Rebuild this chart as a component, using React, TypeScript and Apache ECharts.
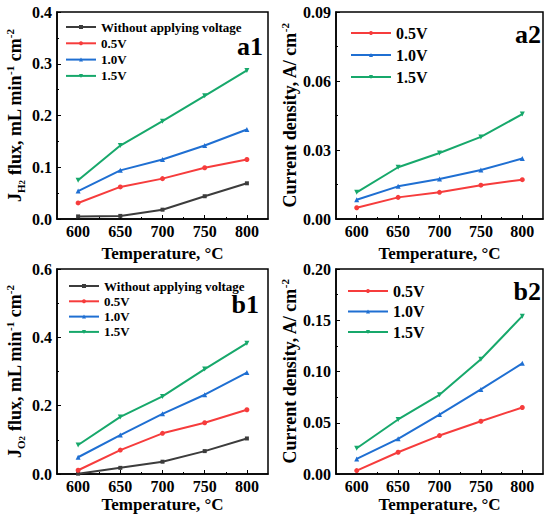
import React, { useEffect, useRef } from "react";
import * as echarts from "echarts";

const temps = [600, 650, 700, 750, 800];
const majorX = [600, 650, 700, 750, 800];
const minorX = [625, 675, 725, 775];

// Panel a1: H2 flux
const a1NoV = [0.005, 0.006, 0.018, 0.044, 0.069];
const a1V05 = [0.031, 0.062, 0.078, 0.099, 0.115];
const a1V10 = [0.054, 0.094, 0.115, 0.142, 0.173];
const a1V15 = [0.075, 0.142, 0.189, 0.238, 0.287];
// Panel a2: current density
const a2V05 = [0.0049, 0.0094, 0.0116, 0.0147, 0.0171];
const a2V10 = [0.0084, 0.0142, 0.0174, 0.0213, 0.0263];
const a2V15 = [0.0116, 0.0225, 0.0287, 0.0357, 0.0456];
// Panel b1: O2 flux
const b1NoV = [0.001, 0.018, 0.036, 0.067, 0.104];
const b1V05 = [0.011, 0.07, 0.119, 0.15, 0.188];
const b1V10 = [0.049, 0.114, 0.176, 0.232, 0.297];
const b1V15 = [0.085, 0.167, 0.227, 0.307, 0.383];
// Panel b2: current density
const b2V05 = [0.0033, 0.0212, 0.0375, 0.0515, 0.0649];
const b2V10 = [0.0147, 0.0343, 0.058, 0.0825, 0.108];
const b2V15 = [0.0251, 0.0532, 0.0773, 0.112, 0.154];

const names4 = ["Without applying voltage", "0.5V", "1.0V", "1.5V"];
const names3 = ["0.5V", "1.0V", "1.5V"];

const FONT = '"Liberation Serif", "Times New Roman", serif';
const C_BLACK = "#3c3c3c";
const C_RED = "#f63c3c";
const C_BLUE = "#1f6fd2";
const C_GREEN = "#17a86b";
const TRI_DOWN = "path://M0,0L10,0L5,9Z";

const grids = [
  { left: 57, top: 12, width: 211, height: 207 },
  { left: 336, top: 12, width: 207, height: 207 },
  { left: 57, top: 269, width: 211, height: 205 },
  { left: 336, top: 269, width: 207, height: 205 },
];

const yCfg = [
  { max: 0.4, interval: 0.1, dec: 1, gap: 31, name: "{m|J}{sub|H}{sub2|2}{m| flux, mL min}{sup|-1}{m| cm}{sup|-2}" },
  { max: 0.09, interval: 0.03, dec: 2, gap: 34, name: "{m|Current density, A/ cm}{sup|-2}" },
  { max: 0.6, interval: 0.2, dec: 1, gap: 31, name: "{m|J}{sub|O}{sub2|2}{m| flux, mL min}{sup|-1}{m| cm}{sup|-2}" },
  { max: 0.2, interval: 0.05, dec: 2, gap: 34, name: "{m|Current density, A/ cm}{sup|-2}" },
];

const xGaps = [26, 26, 22, 22];

const rich = {
  m: { fontSize: 18, fontWeight: "bold", fontFamily: FONT, color: "#000", lineHeight: 22, verticalAlign: "middle" },
  sub: { fontSize: 11, fontWeight: "bold", fontFamily: FONT, color: "#000", lineHeight: 9, verticalAlign: "bottom" },
  sub2: { fontSize: 9, fontWeight: "bold", fontFamily: FONT, color: "#000", lineHeight: 6, verticalAlign: "bottom" },
  sup: { fontSize: 11, fontWeight: "bold", fontFamily: FONT, color: "#000", lineHeight: 10, verticalAlign: "top" },
};

function pts(arr: number[]) {
  return temps.map((t, i) => [t, arr[i]]);
}

function line(name: string, data: number[], color: string, symbol: string, g: number) {
  return {
    type: "line",
    name,
    xAxisIndex: g * 2,
    yAxisIndex: g,
    data: pts(data),
    symbol,
    symbolSize: symbol === "rect" ? 4 : 5,
    showSymbol: true,
    lineStyle: { color, width: 2 },
    itemStyle: { color },
    z: 3,
  };
}

export default function App() {
  const ref = useRef<HTMLDivElement>(null);
  useEffect(() => {
    if (!ref.current) return;
    const chart = echarts.init(ref.current, null, { renderer: "svg" });

    const xAxis: any[] = [];
    grids.forEach((_, g) => {
      xAxis.push({
        type: "value",
        gridIndex: g,
        position: "bottom",
        min: 575,
        max: 825,
        name: "Temperature, \u00B0C",
        nameLocation: "middle",
        nameGap: xGaps[g],
        nameTextStyle: { fontFamily: FONT, fontSize: 17, fontWeight: "bold", color: "#000" },
        axisLine: { show: true, lineStyle: { color: "#000", width: 1.5 } },
        axisTick: { show: true, inside: true, length: 4, customValues: majorX, lineStyle: { color: "#000", width: 1 } },
        axisLabel: { customValues: majorX, fontFamily: FONT, fontSize: 16, fontWeight: "bold", color: "#000", margin: 4 },
        splitLine: { show: false },
      });
      xAxis.push({
        type: "value",
        gridIndex: g,
        position: "bottom",
        min: 575,
        max: 825,
        axisLine: { show: false },
        axisTick: { show: true, inside: true, length: 2, customValues: minorX, lineStyle: { color: "#000", width: 1 } },
        axisLabel: { show: false },
        splitLine: { show: false },
      });
    });

    const yAxis = yCfg.map((c, g) => ({
      type: "value",
      gridIndex: g,
      min: 0,
      max: c.max,
      interval: c.interval,
      name: c.name,
      nameLocation: "middle",
      nameGap: c.gap,
      nameTextStyle: { rich },
      axisLine: { show: true, lineStyle: { color: "#000", width: 1.5 } },
      axisTick: { show: true, inside: true, length: 4, lineStyle: { color: "#000", width: 1 } },
      minorTick: { show: true, splitNumber: 2, length: 2, lineStyle: { color: "#000", width: 1 } },
      axisLabel: {
        fontFamily: FONT,
        fontSize: 16,
        fontWeight: "bold",
        color: "#000",
        margin: 5,
        formatter: (v: number) => v.toFixed(c.dec),
      },
      splitLine: { show: false },
    }));

    const series = [
      line(names4[0], a1NoV, C_BLACK, "rect", 0),
      line(names4[1], a1V05, C_RED, "circle", 0),
      line(names4[2], a1V10, C_BLUE, "triangle", 0),
      line(names4[3], a1V15, C_GREEN, TRI_DOWN, 0),
      line(names3[0], a2V05, C_RED, "circle", 1),
      line(names3[1], a2V10, C_BLUE, "triangle", 1),
      line(names3[2], a2V15, C_GREEN, TRI_DOWN, 1),
      line(names4[0], b1NoV, C_BLACK, "rect", 2),
      line(names4[1], b1V05, C_RED, "circle", 2),
      line(names4[2], b1V10, C_BLUE, "triangle", 2),
      line(names4[3], b1V15, C_GREEN, TRI_DOWN, 2),
      line(names3[0], b2V05, C_RED, "circle", 3),
      line(names3[1], b2V10, C_BLUE, "triangle", 3),
      line(names3[2], b2V15, C_GREEN, TRI_DOWN, 3),
    ];

    const legendBase = {
      orient: "vertical",
      padding: 0,
      selectedMode: false,
      itemHeight: 5,
    };

    const legend = [
      { ...legendBase, left: 65, top: 20, itemWidth: 30, itemGap: 2.3, data: names4,
        textStyle: { fontFamily: FONT, fontSize: 13, fontWeight: "bold", color: "#000", lineHeight: 14 } },
      { ...legendBase, left: 350, top: 25, itemWidth: 40, itemGap: 6, data: names3,
        textStyle: { fontFamily: FONT, fontSize: 16, fontWeight: "bold", color: "#000", lineHeight: 16 } },
      { ...legendBase, left: 68, top: 279, itemWidth: 30, itemGap: 1.3, data: names4,
        textStyle: { fontFamily: FONT, fontSize: 13, fontWeight: "bold", color: "#000", lineHeight: 14 } },
      { ...legendBase, left: 347, top: 283, itemWidth: 40, itemGap: 4.5, data: names3,
        textStyle: { fontFamily: FONT, fontSize: 16, fontWeight: "bold", color: "#000", lineHeight: 16 } },
    ];

    const panelLabels = [
      { text: "a1", x: 263, y: 46 },
      { text: "a2", x: 541, y: 34 },
      { text: "b1", x: 259, y: 304 },
      { text: "b2", x: 541, y: 291 },
    ];

    chart.setOption({
      animation: false,
      backgroundColor: "#fff",
      grid: grids.map((g) => ({ ...g, show: true, borderColor: "#000", borderWidth: 1.5, backgroundColor: "transparent" })),
      xAxis,
      yAxis,
      legend,
      series,
      graphic: panelLabels.map((p) => ({
        type: "text",
        x: p.x,
        y: p.y,
        z: 10,
        style: {
          text: p.text,
          fontFamily: FONT,
          fontSize: 26,
          lineHeight: 18,
          fontWeight: "bold",
          fill: "#000",
          align: "right",
          verticalAlign: "middle",
        },
      })),
    });
    return () => chart.dispose();
  }, []);

  return (
    <div
      ref={ref}
      style={{ position: "absolute", left: 0, top: 0, width: 550, height: 524, background: "#fff" }}
    />
  );
}
